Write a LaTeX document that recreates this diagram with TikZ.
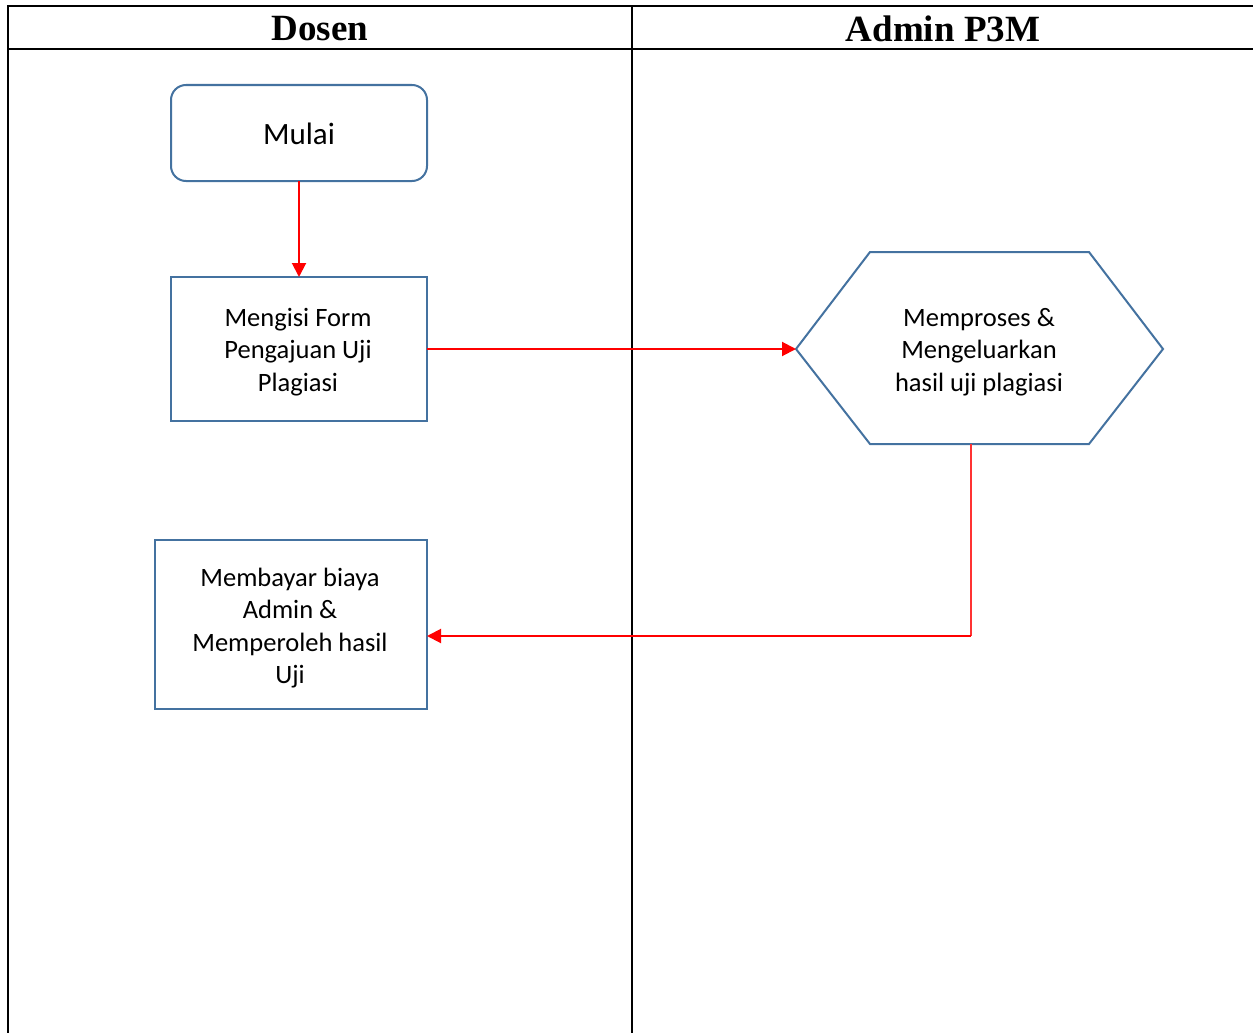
\documentclass[tikz,border=0pt]{standalone}
\usepackage{fontspec}
\setmainfont{Carlito}
\newfontfamily\headfont{Liberation Serif}
\usetikzlibrary{arrows.meta}
\definecolor{boxblue}{RGB}{68,114,160}
\definecolor{flowred}{RGB}{255,0,0}
\tikzset{
  lane/.style={line width=2pt, draw=black},
  head/.style={font=\headfont\bfseries\fontsize{37}{40}\selectfont, inner sep=0pt, anchor=center},
  proc/.style={draw=boxblue, line width=2pt, fill=white},
  lbl/.style={align=center, inner sep=0pt, font=\fontsize{26.5}{32.5}\selectfont},
  flow/.style={draw=flowred, line width=2pt, -{Triangle[length=14pt,width=14pt]}},
  thinflow/.style={draw=flowred!80, line width=1.2pt}
}
\begin{document}
\begin{tikzpicture}[x=1pt,y=-1pt]
\useasboundingbox (0,0) rectangle (1253,1033);
% swimlane table
\draw[lane] (8,1033) -- (8,6) -- (1253,6);
\draw[lane] (8,49) -- (1253,49);
\draw[lane] (632,6) -- (632,1033);
\node[head] (hDosen) at (320,29) {Dosen};
\node[head] (hAdmin) at (943,29) {Admin P3M};
% shapes
\draw[proc, rounded corners=15pt] (171,85) rectangle (427,181);
\node[lbl, font=\fontsize{31}{36}\selectfont] (mulai) at (299,134) {Mulai};
\coordinate (mulaiS) at (299,181);
\draw[proc] (171,277) rectangle (427,421);
\node[lbl] (form) at (298,352) {Mengisi Form\\Pengajuan Uji\\Plagiasi};
\coordinate (formN) at (299,277);
\coordinate (formE) at (427,349);
\draw[proc] (796,349) -- (870,252) -- (1089,252) -- (1163,349) -- (1089,444) -- (870,444) -- cycle;
\node[lbl] (proses) at (979,352) {Memproses \&\\Mengeluarkan\\hasil uji plagiasi};
\coordinate (prosesW) at (796,349);
\coordinate (prosesS) at (971,444);
\coordinate (bend) at (971,636);
\draw[proc] (155,540) rectangle (427,709);
\node[lbl] (bayar) at (290,628) {Membayar biaya\\Admin \&\\Memperoleh hasil\\Uji};
\coordinate (bayarE) at (427,636);
% connectors
\draw[flow] (mulaiS) -- (formN);
\draw[flow] (formE) -- (prosesW);
\draw[thinflow] (prosesS) -- (bend);
\draw[flow] (bend) -- (bayarE);
\end{tikzpicture}
\end{document}
